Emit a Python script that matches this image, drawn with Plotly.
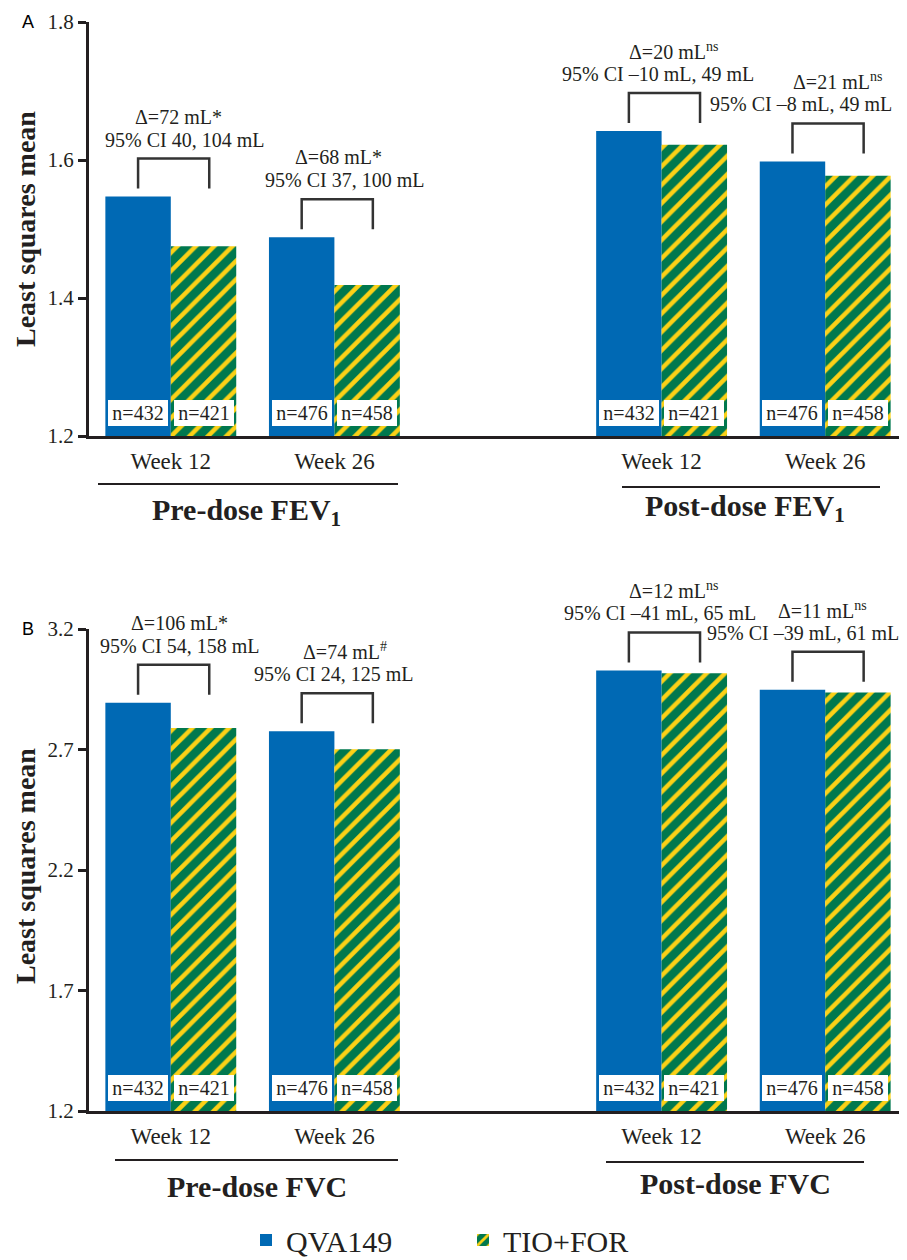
import plotly.graph_objects as go

# ---------------- data ----------------
weeks = ["Week 12", "Week 26", "Week 12", "Week 26"]
series_names = ["QVA149", "TIO+FOR"]
qva_fev1 = [1.547, 1.488, 1.642, 1.598]
tio_fev1 = [1.475, 1.419, 1.622, 1.577]
qva_fvc = [2.894, 2.776, 3.028, 2.948]
tio_fvc = [2.789, 2.701, 3.016, 2.937]
n_qva = [432, 476, 432, 476]
n_tio = [421, 458, 421, 458]
delta_fev1 = ["Δ=72 mL*", "Δ=68 mL*", "Δ=20 mL<sup>ns</sup>", "Δ=21 mL<sup>ns</sup>"]
ci_fev1 = ["95% CI 40, 104 mL", "95% CI 37, 100 mL",
           "95% CI \u201310 mL, 49 mL", "95% CI \u20138 mL, 49 mL"]
delta_fvc = ["Δ=106 mL*", "Δ=74 mL<sup>#</sup>", "Δ=12 mL<sup>ns</sup>", "Δ=11 mL<sup>ns</sup>"]
ci_fvc = ["95% CI 54, 158 mL", "95% CI 24, 125 mL",
          "95% CI \u201341 mL, 65 mL", "95% CI \u201339 mL, 61 mL"]
groups_fev1 = ["Pre-dose FEV<sub>1</sub>", "Post-dose FEV<sub>1</sub>"]
groups_fvc = ["Pre-dose FVC", "Post-dose FVC"]
ticks_fev1 = [1.2, 1.4, 1.6, 1.8]
ticks_fvc = [1.2, 1.7, 2.2, 2.7, 3.2]

# ---------------- layout constants ----------------
# The page body has an 8px margin; positions below are given in window pixels
# and converted to figure coordinates.
OFF = 8
W, H = 907 - OFF, 1260 - OFF
SERIF = "Liberation Serif, Times New Roman, serif"
DARK = "#231f20"
BLUE = "#0069b4"
GREEN = "#00784e"
YELLOW = "#fcd116"
xpos = [0, 1, 3, 4]
X0PX, X1PX = 89, 907
XR = [-0.5, 4.5]
PXU = (X1PX - X0PX) / (XR[1] - XR[0])


def py(px):
    return 1 - (px - OFF) / H


def fx(px):
    return (px - OFF) / W


def pxx(xd):
    return X0PX + (xd - XR[0]) * PXU


panels = [
    dict(qva=qva_fev1, tio=tio_fev1, delta=delta_fev1, ci=ci_fev1, groups=groups_fev1,
         ticks=ticks_fev1, top=22, bot=436, rng=[1.2, 1.8], letter="A",
         dx_delta=[8, 4, 12, 12], dx_ci=[14, 10, -4, -24],
         lines=[(98, 398, 484), (622, 880, 487)],
         titles=[(246, 512), (745, 508)], ytitle_y=229),
    dict(qva=qva_fvc, tio=tio_fvc, delta=delta_fvc, ci=ci_fvc, groups=groups_fvc,
         ticks=ticks_fvc, top=629, bot=1111, rng=[1.2, 3.2], letter="B",
         dx_delta=[9, 11, 12, -3], dx_ci=[9, -1, -2, -22],
         lines=[(115, 398, 1160), (606, 864, 1162)],
         titles=[(257, 1186), (735, 1183)], ytitle_y=866),
]

fig = go.Figure()
shapes = []
annotations = []

for i, p in enumerate(panels):
    xa = "x" if i == 0 else "x2"
    ya = "y" if i == 0 else "y2"
    fig.add_trace(go.Bar(
        x=xpos, y=p["qva"], name=series_names[0], xaxis=xa, yaxis=ya,
        marker=dict(color=BLUE, line=dict(width=0)), offsetgroup="a",
        showlegend=(i == 0), legendgroup="q", hoverinfo="y"))
    fig.add_trace(go.Bar(
        x=xpos, y=p["tio"], name=series_names[1], xaxis=xa, yaxis=ya,
        marker=dict(color=GREEN, line=dict(width=0),
                    pattern=dict(shape="/", fgcolor=YELLOW, bgcolor=GREEN,
                                 size=13, solidity=0.35)),
        offsetgroup="b", showlegend=(i == 0), legendgroup="t", hoverinfo="y"))

    scale = (p["bot"] - p["top"]) / (p["rng"][1] - p["rng"][0])  # px per unit

    def vpx(v, p=p, scale=scale):
        return p["bot"] - (v - p["rng"][0]) * scale

    for k, xp in enumerate(xpos):
        top_px = vpx(max(p["qva"][k], p["tio"][k]))
        y_leg = py(top_px - 8)
        y_top = py(top_px - 38)
        xl = fx(pxx(xp - 0.2))
        xr = fx(pxx(xp + 0.235))
        shapes.append(dict(type="path", xref="paper", yref="paper",
                           path=f"M {xl},{y_leg} L {xl},{y_top} L {xr},{y_top} L {xr},{y_leg}",
                           line=dict(color="#333333", width=2.5)))
        annotations.append(dict(x=fx(pxx(xp) + p["dx_ci"][k]), y=py(top_px - 57),
                                xref="paper", yref="paper", text=p["ci"][k], showarrow=False,
                                font=dict(family=SERIF, size=20, color=DARK),
                                xanchor="center", yanchor="middle"))
        annotations.append(dict(x=fx(pxx(xp) + p["dx_delta"][k]), y=py(top_px - 80),
                                xref="paper", yref="paper", text=p["delta"][k], showarrow=False,
                                font=dict(family=SERIF, size=20, color=DARK),
                                xanchor="center", yanchor="middle"))
        for off, nval in ((-0.2, n_qva[k]), (0.2, n_tio[k])):
            annotations.append(dict(x=xp + off, y=p["rng"][0], xref=xa, yref=ya,
                                    text=f"n={nval}", showarrow=False,
                                    font=dict(family=SERIF, size=20, color=DARK),
                                    bgcolor="white", bordercolor="white", borderwidth=1,
                                    borderpad=1, width=56,
                                    xanchor="center", yanchor="bottom", yshift=10))

    for (x0p, x1p, ylp) in p["lines"]:
        shapes.append(dict(type="line", xref="paper", yref="paper",
                           x0=fx(x0p), x1=fx(x1p), y0=py(ylp), y1=py(ylp),
                           line=dict(color=DARK, width=2)))
    for g, (tx, ty) in zip(p["groups"], p["titles"]):
        annotations.append(dict(x=fx(tx), y=py(ty), xref="paper", yref="paper",
                                text=f"<b>{g}</b>", showarrow=False,
                                font=dict(family=SERIF, size=30, color=DARK),
                                xanchor="center", yanchor="middle"))
    annotations.append(dict(x=fx(25), y=py(p["ytitle_y"]), xref="paper", yref="paper",
                            text="<b>Least squares mean</b>", textangle=-90, showarrow=False,
                            font=dict(family=SERIF, size=28, color=DARK),
                            xanchor="center", yanchor="middle"))
    annotations.append(dict(x=fx(28), y=py(p["top"]), xref="paper", yref="paper",
                            text=p["letter"], showarrow=False,
                            font=dict(family="Liberation Sans, Arial, sans-serif", size=18,
                                      color="black"),
                            xanchor="center", yanchor="middle"))

common_x = dict(range=XR, domain=[fx(X0PX), min(1.0, fx(X1PX))], showline=True,
                linecolor=DARK, linewidth=3, tickvals=xpos, ticktext=weeks, ticks="",
                showgrid=False, zeroline=False,
                tickfont=dict(family=SERIF, size=23, color=DARK),
                ticklabelstandoff=2, fixedrange=True, automargin=False)


def yaxis_cfg(p, anchor):
    return dict(range=p["rng"], domain=[py(p["bot"]), py(p["top"])], anchor=anchor,
                showline=True, linecolor=DARK, linewidth=3, tickvals=p["ticks"],
                ticktext=[f"{t:.1f}" for t in p["ticks"]], ticks="outside", ticklen=8,
                tickwidth=2.5, tickcolor=DARK, showgrid=False, zeroline=False,
                tickfont=dict(family=SERIF, size=21, color=DARK), fixedrange=True,
                automargin=False)


fig.update_layout(
    template="none",
    width=W, height=H, autosize=False,
    margin=dict(l=0, r=0, t=0, b=0, autoexpand=False),
    paper_bgcolor="white", plot_bgcolor="white",
    barmode="group", bargap=0.2, bargroupgap=0,
    xaxis=dict(common_x, anchor="y"),
    xaxis2=dict(common_x, anchor="y2"),
    yaxis=yaxis_cfg(panels[0], "x"),
    yaxis2=yaxis_cfg(panels[1], "x2"),
    shapes=shapes,
    annotations=annotations,
    showlegend=True,
    legend=dict(orientation="h", x=fx(463), xanchor="center", y=py(1240), yanchor="middle",
                font=dict(family=SERIF, size=30, color=DARK), entrywidth=172,
                itemwidth=30, bgcolor="rgba(0,0,0,0)"),
)

fig.write_html("out.html")
